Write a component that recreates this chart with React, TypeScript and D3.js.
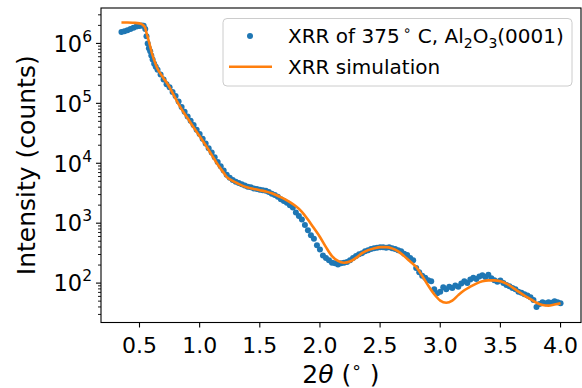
import React from "react";
import * as d3 from "d3";

// Measured XRR data (2θ in degrees, intensity in counts)
const measuredTheta = [
  0.35, 0.375, 0.4, 0.425, 0.45, 0.475, 0.5, 0.52, 0.535, 0.548, 0.558, 0.568, 0.578, 0.589, 0.598,
  0.609, 0.622, 0.635, 0.65, 0.675, 0.7, 0.725, 0.75, 0.775, 0.8, 0.825, 0.85, 0.875, 0.9, 0.925,
  0.95, 0.975, 1.0, 1.025, 1.05, 1.075, 1.1, 1.125, 1.15, 1.175, 1.2, 1.225, 1.25, 1.275, 1.3,
  1.325, 1.35, 1.375, 1.4, 1.425, 1.45, 1.475, 1.5, 1.525, 1.55, 1.575, 1.6, 1.625, 1.65, 1.675,
  1.7, 1.725, 1.75, 1.775, 1.8, 1.825, 1.85, 1.875, 1.9, 1.925, 1.95, 1.975, 2.0, 2.025, 2.05,
  2.075, 2.1, 2.125, 2.15, 2.175, 2.2, 2.225, 2.25, 2.275, 2.3, 2.325, 2.35, 2.375, 2.4, 2.425,
  2.45, 2.475, 2.5, 2.525, 2.55, 2.575, 2.6, 2.625, 2.65, 2.675, 2.7, 2.725, 2.75, 2.775, 2.8,
  2.825, 2.85, 2.875, 2.9, 2.925, 2.95, 2.975, 3.0, 3.025, 3.05, 3.075, 3.1, 3.125, 3.15, 3.175,
  3.2, 3.225, 3.25, 3.275, 3.3, 3.325, 3.35, 3.375, 3.4, 3.425, 3.45, 3.475, 3.5, 3.525, 3.55,
  3.575, 3.6, 3.625, 3.65, 3.675, 3.7, 3.725, 3.75, 3.775, 3.8, 3.825, 3.85, 3.875, 3.9, 3.925,
  3.95, 3.975, 4.0,
];
const measuredCounts = [
  1.55e6, 1.6e6, 1.66e6, 1.74e6, 1.82e6, 1.91e6, 1.95e6, 2.0e6, 1.97e6, 1.74e6, 1.32e6, 1.0e6, 8.32e5, 7.41e5, 6.31e5,
  5.37e5, 4.57e5, 4.07e5, 3.63e5, 3.02e5, 2.51e5, 2.09e5, 1.86e5, 1.55e5, 1.32e5, 1.07e5, 8.71e4, 7.24e4, 6.03e4, 5.13e4,
  4.37e4, 3.63e4, 3.09e4, 2.57e4, 2.14e4, 1.78e4, 1.51e4, 1.26e4, 1.05e4, 8.91e3, 7.59e3, 6.46e3, 5.75e3, 5.25e3, 4.9e3,
  4.68e3, 4.47e3, 4.27e3, 4.07e3, 3.98e3, 3.8e3, 3.72e3, 3.63e3, 3.55e3, 3.47e3, 3.31e3, 3.09e3, 2.95e3, 2.75e3, 2.51e3,
  2.34e3, 2.19e3, 2.0e3, 1.82e3, 1.51e3, 1.32e3, 1.15e3, 933, 759, 631, 550, 427, 363, 288, 263,
  240, 219, 214, 204, 214, 219, 224, 240, 263, 282, 302, 316, 339, 355, 372,
  380, 389, 398, 398, 389, 398, 380, 372, 355, 339, 309, 295, 263, 240, 178,
  151, 132, 123, 112, 107, 79, 68, 72, 85, 79, 87, 83, 91, 87, 98,
  107, 100, 115, 123, 117, 129, 135, 126, 138, 120, 112, 105, 110, 100, 93,
  89, 83, 79, 72, 69, 65, 62, 58, 52, 40, 45, 48, 46, 48, 47,
  50, 48, 46,
];

// Simulated XRR curve
const simTheta = [
  0.35, 0.4, 0.45, 0.5, 0.52, 0.545, 0.56, 0.575, 0.603, 0.645, 0.7, 0.728, 0.8, 0.838, 0.9,
  0.949, 1.0, 1.06, 1.1, 1.143, 1.2, 1.226, 1.27, 1.309, 1.35, 1.392, 1.45, 1.5, 1.55, 1.6,
  1.668, 1.7, 1.75, 1.8, 1.85, 1.9, 1.942, 2.0, 2.05, 2.1, 2.15, 2.2, 2.25, 2.3, 2.35,
  2.4, 2.45, 2.5, 2.55, 2.6, 2.65, 2.7, 2.75, 2.8, 2.85, 2.9, 2.95, 3.0, 3.05, 3.1,
  3.15, 3.2, 3.25, 3.3, 3.35, 3.4, 3.45, 3.5, 3.55, 3.6, 3.65, 3.7, 3.75, 3.8, 3.85,
  3.9, 3.95, 4.0,
];
const simCounts = [
  2.24e6, 2.24e6, 2.21e6, 2.16e6, 2.09e6, 1.87e6, 1.45e6, 1.14e6, 6.92e5, 3.98e5, 2.63e5, 2.19e5, 1.2e5, 8.71e4, 5.62e4,
  3.98e4, 2.82e4, 1.86e4, 1.38e4, 1.0e4, 6.92e3, 5.89e3, 5.13e3, 4.68e3, 4.27e3, 3.98e3, 3.72e3, 3.55e3, 3.39e3, 3.16e3,
  2.75e3, 2.57e3, 2.24e3, 1.91e3, 1.55e3, 1.15e3, 870, 589, 398, 282, 234, 219, 229, 263, 316,
  355, 380, 398, 398, 380, 339, 282, 229, 186, 132, 91, 65, 51, 47, 51,
  63, 76, 87, 98, 107, 111, 111, 107, 98, 85, 72, 62, 54, 47, 43,
  42, 44, 46,
];

const xTickValues = [0.5, 1.0, 1.5, 2.0, 2.5, 3.0, 3.5, 4.0];
const yTickExponents = [2, 3, 4, 5, 6];

const W = 582;
const H = 388;
const PLOT = { left: 101, right: 581, top: 8, bottom: 322.5 };
const BLUE = "#1f77b4";
const ORANGE = "#ff7f0e";
const FONT = "'DejaVu Sans', sans-serif";

export default function App() {
  const x = d3.scaleLinear().domain([0.18, 4.17]).range([PLOT.left, PLOT.right]);
  const y = d3.scaleLog().domain([22, 3.9e6]).range([PLOT.bottom, PLOT.top]);

  const measured = measuredTheta.map((t, i) => ({ t, c: measuredCounts[i] }));
  const sim = simTheta.map((t, i) => ({ t, c: simCounts[i] }));

  const line = d3
    .line<{ t: number; c: number }>()
    .x((d) => x(d.t))
    .y((d) => y(d.c))
    .curve(d3.curveMonotoneX);

  const minorTicks: number[] = [];
  for (let k = 1; k <= 6; k++) {
    for (let m = 2; m <= 9; m++) {
      const v = m * Math.pow(10, k);
      if (v >= 22 && v <= 3.9e6) minorTicks.push(v);
    }
  }

  return (
    <svg
      width={W}
      height={H}
      style={{ position: "absolute", left: 0, top: 0, background: "#fff" }}
      fontFamily={FONT}
    >
      <defs>
        <clipPath id="plotclip">
          <rect x={PLOT.left} y={PLOT.top} width={PLOT.right - PLOT.left} height={PLOT.bottom - PLOT.top} />
        </clipPath>
      </defs>
      <rect x={0} y={0} width={W} height={H} fill="#fff" />

      <g clipPath="url(#plotclip)">
        {measured.map((d, i) => (
          <circle key={i} cx={x(d.t)} cy={y(d.c)} r={3} fill={BLUE} />
        ))}
        <path d={line(sim) || ""} fill="none" stroke={ORANGE} strokeWidth={2.6} strokeLinejoin="round" />
      </g>

      {/* spines */}
      <rect
        x={PLOT.left}
        y={PLOT.top}
        width={PLOT.right - PLOT.left}
        height={PLOT.bottom - PLOT.top}
        fill="none"
        stroke="#000"
        strokeWidth={1.1}
      />

      {/* x ticks */}
      {xTickValues.map((v) => (
        <g key={v}>
          <line x1={x(v)} x2={x(v)} y1={PLOT.bottom} y2={PLOT.bottom + 5} stroke="#000" strokeWidth={1.1} />
          <text x={x(v)} y={352.5} textAnchor="middle" fontSize={22} fill="#000">
            {v.toFixed(1)}
          </text>
        </g>
      ))}

      {/* y major ticks */}
      {yTickExponents.map((e) => {
        const yy = y(Math.pow(10, e));
        return (
          <g key={e}>
            <line x1={PLOT.left - 5} x2={PLOT.left} y1={yy} y2={yy} stroke="#000" strokeWidth={1.1} />
            <text x={92} y={yy + 8.3} textAnchor="end" fontSize={22.5} fill="#000">
              10
              <tspan dy={-10} fontSize={15.5}>
                {e}
              </tspan>
            </text>
          </g>
        );
      })}
      {/* y minor ticks */}
      {minorTicks.map((v) => (
        <line
          key={v}
          x1={PLOT.left - 3}
          x2={PLOT.left}
          y1={y(v)}
          y2={y(v)}
          stroke="#000"
          strokeWidth={0.9}
        />
      ))}

      {/* axis labels */}
      <text x={(PLOT.left + PLOT.right) / 2} y={383} textAnchor="middle" fontSize={25} fill="#000">
        2<tspan fontStyle="italic">θ</tspan> (
        <tspan dy={-10} fontSize={17}>
          ∘
        </tspan>
        <tspan dy={10}> )</tspan>
      </text>
      <text
        transform={`translate(35,${(PLOT.top + PLOT.bottom) / 2}) rotate(-90)`}
        textAnchor="middle"
        fontSize={25}
        fill="#000"
      >
        Intensity (counts)
      </text>

      {/* legend */}
      <g>
        <rect
          x={223}
          y={18.5}
          width={349}
          height={67.5}
          rx={4}
          ry={4}
          fill="#fff"
          fillOpacity={0.8}
          stroke="#cccccc"
          strokeWidth={1}
        />
        <circle cx={250} cy={36} r={3} fill={BLUE} />
        <text x={288} y={43.3} fontSize={20} fill="#000">
          XRR of 375
          <tspan dx={3} dy={-8} fontSize={14}>
            ∘
          </tspan>
          <tspan dy={8}> C, Al</tspan>
          <tspan dy={5} fontSize={14}>
            2
          </tspan>
          <tspan dy={-5}>O</tspan>
          <tspan dy={5} fontSize={14}>
            3
          </tspan>
          <tspan dy={-5}>(0001)</tspan>
        </text>
        <line x1={229} x2={272} y1={66.7} y2={66.7} stroke={ORANGE} strokeWidth={2.6} />
        <text x={288} y={74.3} fontSize={20} fill="#000">
          XRR simulation
        </text>
      </g>
    </svg>
  );
}
